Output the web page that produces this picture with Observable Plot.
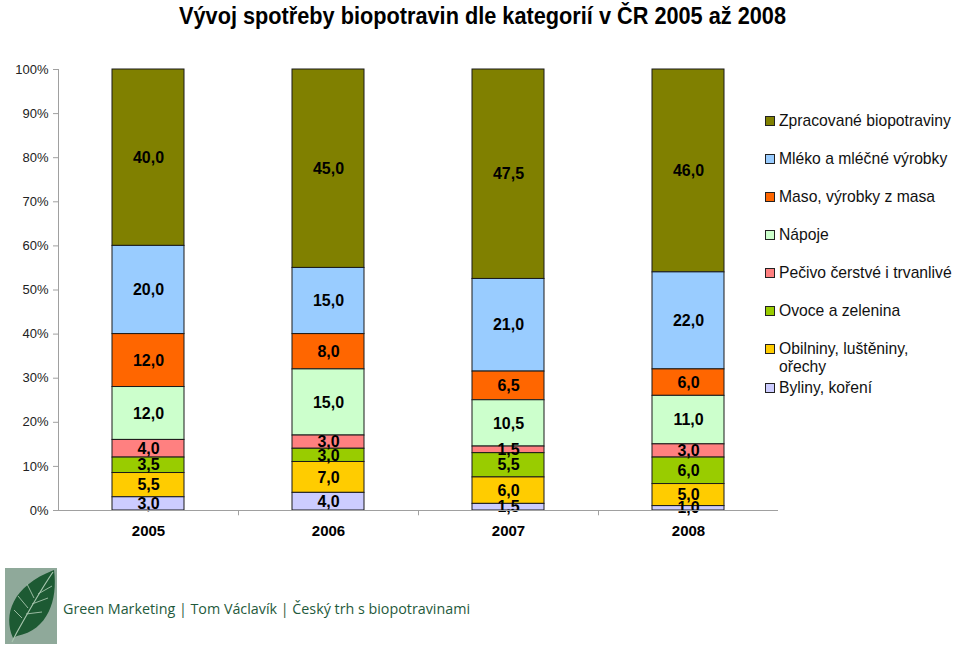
<!DOCTYPE html>
<html><head><meta charset="utf-8">
<script src="https://cdn.jsdelivr.net/npm/d3@7"></script>
<script src="https://cdn.jsdelivr.net/npm/@observablehq/plot@0.6"></script>
<style>
body{margin:0;background:#fff;font-family:"Liberation Sans",Arial,sans-serif;}
#wrap{position:relative;width:960px;height:647px;overflow:hidden;background:#fff;}
#title{position:absolute;left:0;top:0;}
#chart{position:absolute;left:0;top:36px;}
#legend{position:absolute;left:764px;top:0;width:196px;height:420px;font-family:"Liberation Sans",Arial,sans-serif;}
.li{position:absolute;left:0;font-size:15.7px;line-height:18px;color:#111;}
.sw{position:absolute;left:1px;top:4px;width:8px;height:8px;border:1px solid #222;}
.lt{position:absolute;left:15px;top:0;white-space:nowrap;}
.lt.wrap{white-space:normal;width:160px;}
#footer{position:absolute;left:0;top:560px;width:960px;height:87px;}
#ftext{position:absolute;left:63px;top:39px;font-family:"Open Sans",sans-serif;font-size:14.3px;color:#1f5a3c;white-space:nowrap;}
</style></head>
<body>
<div id="wrap">
  <svg id="title" width="960" height="36">
    <text x="179" y="24" textLength="607" lengthAdjust="spacingAndGlyphs" font-family="'Liberation Sans', Arial, sans-serif" font-weight="bold" font-size="24" fill="#000">Vývoj spotřeby biopotravin dle kategorií v ČR 2005 až 2008</text>
  </svg>
  <div id="chart"></div>
  <div id="legend"></div>
  <div id="footer">
    <svg width="60" height="87" style="position:absolute;left:0;top:0">
      <rect x="5" y="8" width="52" height="76" fill="#8fa99a"/>
      <path d="M13,78 C3,55 12,26 54,10 C58,40 48,70 17,76 Z" fill="#1d5a33"/>
      <path d="M12,82 L16,74 C26,56 38,34 53,12" stroke="#a7c5ae" stroke-width="1.2" fill="none"/>
      <path d="M22,58 L14,50 M28,48 L18,36 M34,38 L27,24 M26,54 L42,52 M32,44 L48,38 M38,34 L52,26" stroke="#a7c5ae" stroke-width="0.9" fill="none"/>
    </svg>
    <div id="ftext">Green Marketing | Tom Václavík | Český trh s biopotravinami</div>
  </div>
</div>
<script>
const years = ["2005", "2006", "2007", "2008"];
const categories = [
  "Zpracované biopotraviny",
  "Mléko a mléčné výrobky",
  "Maso, výrobky z masa",
  "Nápoje",
  "Pečivo čerstvé i trvanlivé",
  "Ovoce a zelenina",
  "Obilniny, luštěniny, ořechy",
  "Byliny, koření"
];
const colors = ["#808000", "#99ccff", "#ff6600", "#ccffcc", "#ff8080", "#99cc00", "#ffcc00", "#ccccff"];
const v2005 = [40.0, 20.0, 12.0, 12.0, 4.0, 3.5, 5.5, 3.0];
const v2006 = [45.0, 15.0, 8.0, 15.0, 3.0, 3.0, 7.0, 4.0];
const v2007 = [47.5, 21.0, 6.5, 10.5, 1.5, 5.5, 6.0, 1.5];
const v2008 = [46.0, 22.0, 6.0, 11.0, 3.0, 6.0, 5.0, 1.0];
const yTicks = [0, 10, 20, 30, 40, 50, 60, 70, 80, 90, 100];

const series = [v2005, v2006, v2007, v2008];
const data = [];
years.forEach((yr, i) => categories.forEach((c, j) => data.push({year: yr, cat: c, value: series[i][j]})));
const order = categories.slice().reverse(); // bottom to top
const fmt = v => v.toFixed(1).replace(".", ",");

const chart = Plot.plot({
  width: 960, height: 520,
  marginLeft: 58, marginRight: 182, marginTop: 33, marginBottom: 46,
  style: {fontFamily: "'Liberation Sans', Arial, sans-serif", background: "transparent"},
  x: {domain: years, paddingInner: 0.6, paddingOuter: 0.3, label: null},
  y: {domain: [0, 100], label: null},
  color: {domain: categories, range: colors},
  marks: [
    Plot.barY(data, {x: "year", y: "value", fill: "cat", z: "cat", order, stroke: "#1a1a1a", strokeWidth: 1}),
    Plot.text(data, Plot.stackY({x: "year", y: "value", z: "cat", order, text: d => fmt(d.value), fontWeight: "bold", fontSize: 16, fill: "#000"})),
    Plot.frame({anchor: "left", stroke: "#a0a0a0"}),
    Plot.ruleY([0], {stroke: "#a0a0a0"}),
    Plot.ruleX(years.slice(1), {x: d => d, dx: -90, y1: 0, y2: -1.2, stroke: "#a0a0a0"}),
    Plot.axisY({ticks: yTicks, tickFormat: d => d + "%", tickSize: 5, tickPadding: 5, stroke: "#a0a0a0", fill: "#222", fontSize: 13, label: null}),
    Plot.axisX({tickSize: 0, tickPadding: 15, fontWeight: "bold", fontSize: 15, fill: "#000", label: null})
  ]
});
document.getElementById("chart").appendChild(chart);

// legend (top to bottom)
const legendTops = [112, 150, 188, 226, 264, 302, 340, 379];
const leg = document.getElementById("legend");
categories.forEach((c, i) => {
  const li = document.createElement("div");
  li.className = "li";
  li.style.top = legendTops[i] + "px";
  const sw = document.createElement("div");
  sw.className = "sw";
  sw.style.background = colors[i];
  const lt = document.createElement("div");
  lt.className = "lt" + (c.split(",").length > 2 ? " wrap" : "");
  lt.textContent = c;
  li.appendChild(sw); li.appendChild(lt);
  leg.appendChild(li);
});
</script>
</body></html>
